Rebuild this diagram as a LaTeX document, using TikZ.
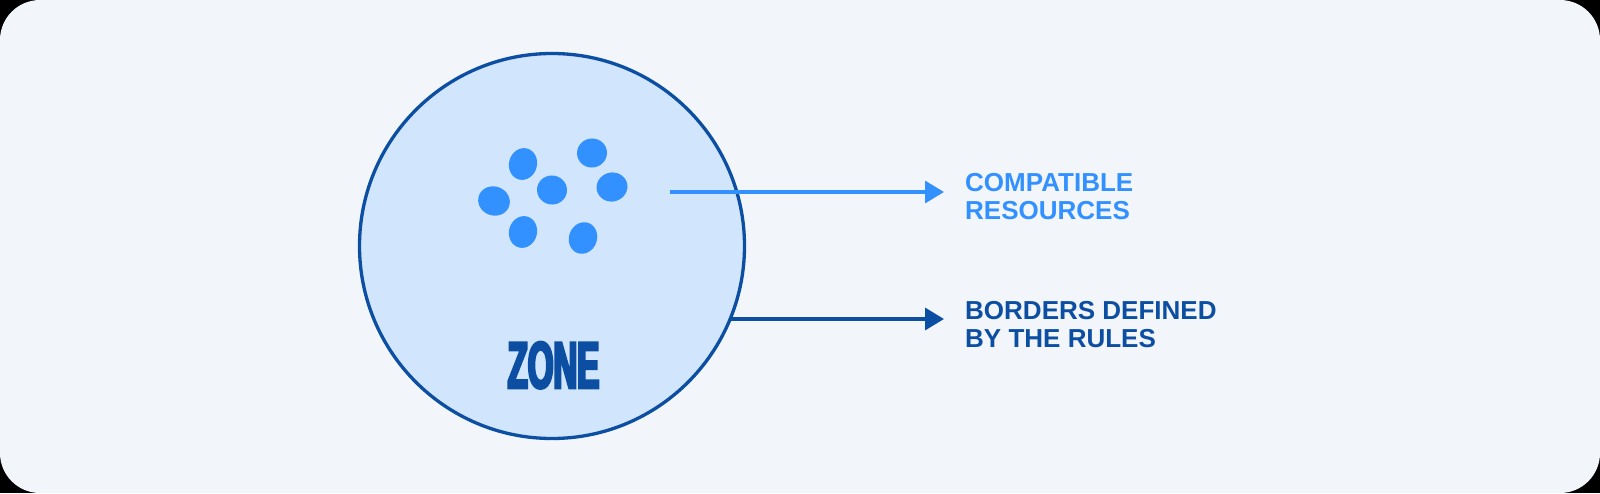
\documentclass[tikz,border=0pt]{standalone}
\usepackage{fontspec}
\setmainfont{Liberation Sans}
\newfontfamily\zonefont[FakeStretch=0.5,FakeBold=4]{Liberation Sans Bold}
\usetikzlibrary{arrows.meta}
\definecolor{bgc}{HTML}{F2F6FA}
\definecolor{zonefill}{HTML}{D1E6FC}
\definecolor{darkb}{HTML}{0B4EA2}
\definecolor{lightb}{HTML}{3391FF}
\tikzset{
  blob/.style={fill=lightb, draw=none},
  lbl/.style={anchor=north west, inner sep=0pt, align=left,
    font=\fontsize{26}{28.5}\selectfont\bfseries},
  arr/.style={line width=3.5pt, -{Triangle[length=19pt,width=22pt]}},
}
\begin{document}
\begin{tikzpicture}[x=1pt,y=-1pt]
\useasboundingbox (0,0) rectangle (1600,493);
\fill[black] (0,0) rectangle (1600,493);
\fill[bgc, rounded corners=40pt] (0,0) rectangle (1600,493);
\node[circle, draw=darkb, line width=3.3pt, fill=zonefill, minimum size=385pt, inner sep=0pt] (zone) at (552,246) {};
\foreach \n/\x/\y/\rx/\ry/\r in {b1/523/164/14/16/-15, b2/592/153/15/14.5/10, b3/552/190/15/14.5/-10, b4/612/187/15.5/14.5/15, b5/494/201/16/14.5/-20, b6/523/232/14/16/-15, b7/583/238/14/16/-20}{
  \fill[blob, rotate around={\r:(\x,\y)}] (\x,\y) ellipse [x radius=\rx, y radius=\ry];
}
\node[anchor=base, inner sep=0pt, text=darkb, font=\zonefont\fontsize{66}{66}\selectfont] (zl) at (553.5,388) {ZONE};
\node[lbl, text=lightb] (comp) at (965,173) {COMPATIBLE\\RESOURCES};
\node[lbl, text=darkb] (bord) at (965,301) {BORDERS DEFINED\\BY THE RULES};
\coordinate (a1s) at (670,192);
\coordinate (a1e) at (944,192);
\coordinate (a2s) at (730,319);
\coordinate (a2e) at (944,319);
\draw[arr, draw=lightb] (a1s) -- (a1e);
\draw[arr, draw=darkb] (a2s) -- (a2e);
\end{tikzpicture}
\end{document}
